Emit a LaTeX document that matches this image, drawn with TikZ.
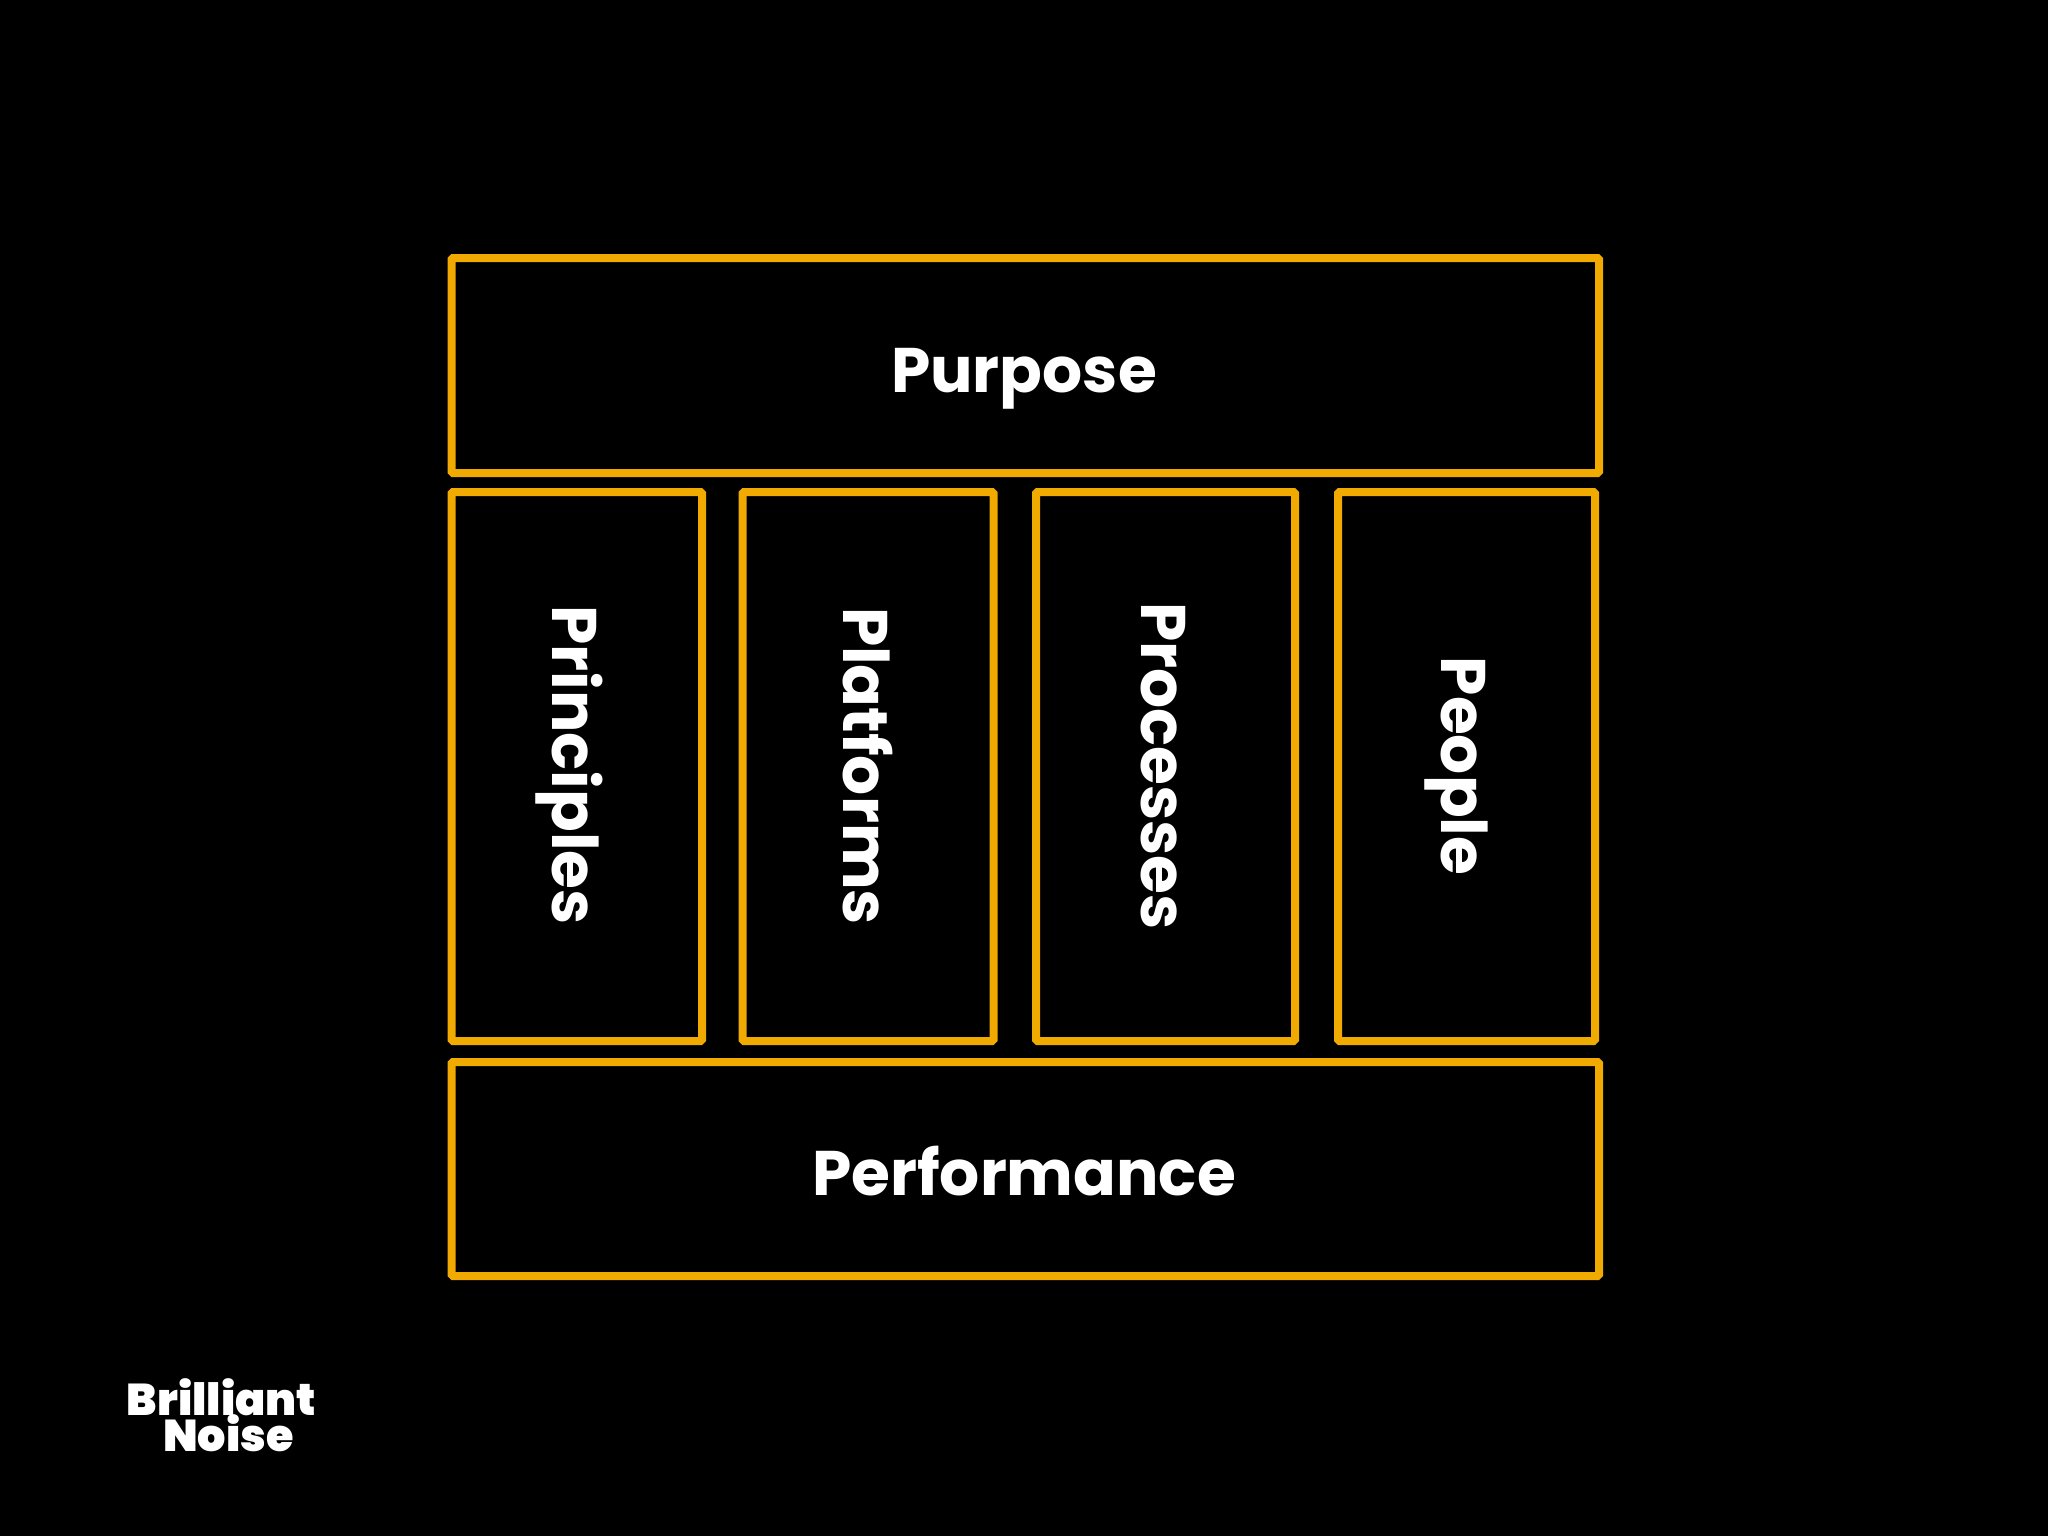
\documentclass[tikz,border=0pt]{standalone}
\usepackage{fontspec}
\setmainfont{Poppins}
\newfontfamily\labelfont{Poppins Bold}
\newfontfamily\logofont{Poppins Black}
\definecolor{amber}{HTML}{F0AA00}
\tikzset{
  panel/.style={draw=amber,line width=8pt,rounded corners=1.5pt,rectangle,inner sep=0pt,outer sep=0pt},
  biglabel/.style={text=white,inner sep=0pt,anchor=base,font=\labelfont\fontsize{63}{70}\selectfont},
  sidelabel/.style={biglabel,rotate=-90},
  logotext/.style={text=white,inner sep=0pt,anchor=base,font=\logofont\fontsize{44.5}{50}\selectfont}
}
\begin{document}
\begin{tikzpicture}[x=1pt,y=-1pt]
\path[use as bounding box,fill=black] (0,0) rectangle (2048,1536);
\node[panel,minimum width=1147.5pt,minimum height=215pt] (purposebox) at (1025.25,365.5) {};
\node[panel,minimum width=1147.5pt,minimum height=214pt] (performancebox) at (1025.25,1169) {};
\node[panel,minimum width=250.5pt,minimum height=549pt] (principlesbox) at (576.75,766.5) {};
\node[panel,minimum width=251pt,minimum height=549pt] (platformsbox) at (868,766.5) {};
\node[panel,minimum width=259pt,minimum height=549pt] (processesbox) at (1165.5,766.5) {};
\node[panel,minimum width=257pt,minimum height=549pt] (peoplebox) at (1466.5,766.5) {};
\node[biglabel] (purpose) at (1024,392) {Purpose};
\node[biglabel] (performance) at (1024,1195) {Performance};
\node[sidelabel] (principles) at (552,765) {Principles};
\node[sidelabel] (platforms) at (843.5,766) {Platforms};
\node[sidelabel] (processes) at (1141,766) {Processes};
\node[sidelabel] (people) at (1441,766) {People};
\node[logotext] (brilliant) at (221.5,1415) {Brilliant};
\node[logotext] (noise) at (228.5,1451) {Noise};
\end{tikzpicture}
\end{document}
